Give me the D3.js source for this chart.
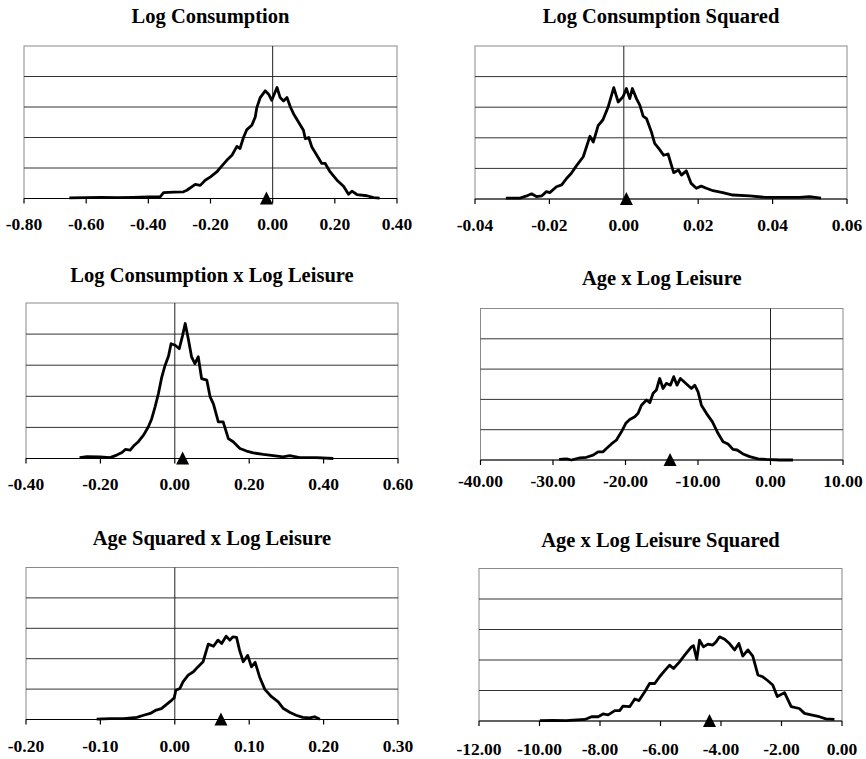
<!DOCTYPE html>
<html>
<head>
<meta charset="utf-8">
<script src="https://cdn.jsdelivr.net/npm/d3@7"></script>
<style>
body { margin: 0; background: #fff; }
svg text { font-family: "Liberation Serif", "Times New Roman", serif; font-weight: bold; fill: #000; }
</style>
</head>
<body>
<div id="chart"></div>
<script>
// panel titles
var titles = ["Log Consumption", "Log Consumption Squared", "Log Consumption x Log Leisure",
    "Age x Log Leisure", "Age Squared x Log Leisure", "Age x Log Leisure Squared"];

// x tick values for each panel
var ticksLc = [-0.8, -0.6, -0.4, -0.2, 0, 0.2, 0.4];
var ticksLc2 = [-0.04, -0.02, 0, 0.02, 0.04, 0.06];
var ticksLcl = [-0.4, -0.2, 0, 0.2, 0.4, 0.6];
var ticksAl = [-40, -30, -20, -10, 0, 10];
var ticksA2l = [-0.2, -0.1, 0, 0.1, 0.2, 0.3];
var ticksAl2 = [-12, -10, -8, -6, -4, -2, 0];

// mean of each distribution (the triangle)
var means = [-0.02, 0.0007, 0.021, -13.85, 0.062, -4.38];

// density curves, y in grid units (5 bands)
var lcX = [-0.654,-0.6,-0.55,-0.5,-0.45,-0.4,-0.362,-0.351,-0.319,-0.287,-0.276,-0.249,-0.233,-0.217,-0.2,-0.18,-0.164,-0.147,-0.131,-0.115,-0.105,-0.094,-0.083,-0.067,-0.056,-0.051,-0.04,-0.024,-0.013,-0.003,0.005,0.014,0.024,0.035,0.046,0.057,0.067,0.083,0.099,0.105,0.116,0.126,0.142,0.158,0.169,0.185,0.207,0.228,0.244,0.255,0.271,0.303,0.325,0.344];
var lcY = [0.02,0.03,0.04,0.03,0.04,0.05,0.05,0.19,0.21,0.22,0.27,0.46,0.43,0.6,0.71,0.87,1.06,1.26,1.42,1.71,1.64,2.0,2.26,2.4,2.67,2.98,3.31,3.53,3.42,3.22,3.42,3.64,3.31,3.2,3.31,3.0,2.78,2.51,2.24,1.96,2.0,1.69,1.42,1.15,1.15,0.87,0.6,0.4,0.14,0.24,0.13,0.09,0.03,0.01];

var lc2X = [-0.0317,-0.0279,-0.0261,-0.0248,-0.0235,-0.0221,-0.0208,-0.0199,-0.0181,-0.0167,-0.0154,-0.0141,-0.0127,-0.0109,-0.0091,-0.0082,-0.0069,-0.0056,-0.0042,-0.0027,-0.0015,-0.0002,0.0007,0.0016,0.0023,0.0034,0.0043,0.0052,0.0061,0.0074,0.0083,0.0096,0.0107,0.0119,0.0134,0.0147,0.0155,0.0168,0.0181,0.0195,0.0208,0.0222,0.024,0.0266,0.0293,0.0338,0.0383,0.0427,0.0472,0.0499,0.053];
var lc2Y = [0.03,0.03,0.1,0.17,0.08,0.1,0.24,0.21,0.4,0.46,0.67,0.84,1.09,1.38,2.05,1.86,2.4,2.59,3.01,3.64,3.17,3.34,3.61,3.28,3.61,3.28,3.07,2.71,2.63,2.2,1.82,1.62,1.43,1.47,0.86,0.95,0.78,0.92,0.51,0.35,0.42,0.35,0.27,0.21,0.13,0.1,0.05,0.05,0.05,0.08,0.03];

var lclX = [-0.256,-0.236,-0.201,-0.174,-0.156,-0.142,-0.133,-0.12,-0.111,-0.098,-0.084,-0.071,-0.062,-0.053,-0.044,-0.035,-0.026,-0.017,-0.01,0.001,0.012,0.021,0.028,0.037,0.045,0.054,0.063,0.072,0.086,0.095,0.104,0.117,0.13,0.144,0.157,0.175,0.193,0.211,0.238,0.265,0.291,0.309,0.336,0.381,0.426];
var lclY = [0.03,0.06,0.05,0.03,0.11,0.19,0.29,0.27,0.4,0.54,0.75,1.02,1.28,1.66,2.09,2.62,3.0,3.29,3.69,3.64,3.53,3.96,4.34,3.8,3.27,3.05,3.27,2.57,2.52,1.98,1.75,1.18,1.18,0.64,0.54,0.32,0.24,0.18,0.13,0.09,0.05,0.09,0.03,0.03,0.0];

var alX = [-29.15,-28.14,-27.45,-26.3,-25.39,-24.47,-23.78,-23.09,-22.63,-21.94,-21.25,-20.56,-19.96,-19.41,-18.72,-18.26,-17.8,-17.11,-16.65,-16.19,-15.74,-15.28,-14.82,-14.36,-13.81,-13.35,-12.89,-12.43,-11.7,-10.91,-10.45,-9.99,-9.53,-8.84,-8.01,-7.24,-6.54,-5.86,-5.17,-4.61,-3.79,-2.87,-1.72,-0.57,1.27,3.1];
var alY = [0.02,0.04,0.0,0.07,0.09,0.16,0.27,0.27,0.38,0.53,0.66,0.93,1.21,1.34,1.43,1.54,1.81,1.98,1.89,2.2,2.31,2.69,2.36,2.53,2.47,2.75,2.47,2.69,2.53,2.36,2.47,2.25,1.81,1.54,1.26,0.88,0.6,0.53,0.35,0.33,0.2,0.11,0.04,0.02,0.0,0.0];

var a2lX = [-0.105,-0.087,-0.069,-0.051,-0.042,-0.033,-0.025,-0.018,-0.011,-0.004,-0.0008,0.0014,0.0068,0.011,0.018,0.025,0.031,0.038,0.045,0.052,0.058,0.063,0.069,0.074,0.078,0.083,0.087,0.092,0.098,0.103,0.108,0.114,0.121,0.13,0.139,0.146,0.155,0.163,0.172,0.181,0.188,0.195];
var a2lY = [0.01,0.03,0.03,0.07,0.14,0.2,0.31,0.36,0.5,0.64,0.71,0.96,1.02,1.24,1.46,1.57,1.73,1.9,2.48,2.41,2.61,2.5,2.74,2.61,2.72,2.7,2.28,1.9,2.11,1.73,1.88,1.4,0.99,0.75,0.58,0.36,0.23,0.14,0.07,0.05,0.09,0.01];

var al2X = [-9.99,-9.55,-9.11,-8.89,-8.5,-8.28,-8.06,-7.9,-7.73,-7.51,-7.35,-7.24,-7.02,-6.85,-6.71,-6.52,-6.36,-6.19,-6.03,-5.86,-5.7,-5.57,-5.37,-5.2,-4.98,-4.91,-4.8,-4.71,-4.58,-4.43,-4.27,-4.16,-4.05,-3.88,-3.72,-3.55,-3.41,-3.28,-3.11,-2.95,-2.78,-2.62,-2.45,-2.29,-2.14,-1.9,-1.68,-1.41,-1.24,-1.02,-0.75,-0.53,-0.25];
var al2Y = [0.01,0.02,0.01,0.03,0.05,0.14,0.14,0.23,0.2,0.34,0.34,0.49,0.47,0.72,0.67,0.96,1.23,1.23,1.45,1.65,1.83,1.72,1.94,2.16,2.43,2.47,2.02,2.65,2.43,2.52,2.49,2.6,2.76,2.68,2.54,2.33,2.54,2.13,2.33,2.13,1.51,1.45,1.32,1.18,0.8,0.93,0.47,0.41,0.25,0.2,0.14,0.07,0.05];

var bandCount = 5;

// where each panel sits on the page
var boxes = [
    {l: 24, r: 397, t: 46, b: 198.5, titleY: 23, labelY: 230},
    {l: 475, r: 847, t: 46, b: 199, titleY: 23, labelY: 231},
    {l: 26, r: 398, t: 303, b: 458.5, titleY: 282, labelY: 490},
    {l: 480.5, r: 843, t: 308.5, b: 460, titleY: 285, labelY: 487},
    {l: 26, r: 398, t: 567.5, b: 719.5, titleY: 545, labelY: 752},
    {l: 479, r: 842, t: 568.5, b: 721, titleY: 547, labelY: 755}
];

var panels = [
    {x: lcX, y: lcY, ticks: ticksLc},
    {x: lc2X, y: lc2Y, ticks: ticksLc2},
    {x: lclX, y: lclY, ticks: ticksLcl},
    {x: alX, y: alY, ticks: ticksAl},
    {x: a2lX, y: a2lY, ticks: ticksA2l},
    {x: al2X, y: al2Y, ticks: ticksAl2}
];

var svg = d3.select("#chart").append("svg")
    .attr("width", 866)
    .attr("height", 759);

panels.forEach(function(p, i) {
    var box = boxes[i];
    var x = d3.scaleLinear()
        .domain([p.ticks[0], p.ticks[p.ticks.length - 1]])
        .range([box.l, box.r]);
    var y = d3.scaleLinear()
        .domain([0, bandCount])
        .range([box.b, box.t]);

    var g = svg.append("g");

    // title over the box
    g.append("text")
        .attr("x", (box.l + box.r) / 2)
        .attr("y", box.titleY)
        .attr("text-anchor", "middle")
        .style("font-size", "20.5px")
        .text(titles[i]);

    // outer frame (grey)
    g.append("rect")
        .attr("x", box.l)
        .attr("y", box.t)
        .attr("width", box.r - box.l)
        .attr("height", box.b - box.t)
        .attr("fill", "none")
        .attr("stroke", "#8a8a8a")
        .attr("stroke-width", 1);

    // horizontal grid lines
    g.selectAll(".grid")
        .data(d3.range(1, bandCount))
        .enter()
        .append("line")
        .attr("x1", box.l)
        .attr("x2", box.r)
        .attr("y1", function(d) { return y(d); })
        .attr("y2", function(d) { return y(d); })
        .attr("stroke", "#333")
        .attr("stroke-width", 1);

    // vertical line at zero, unless it falls on the frame
    var zx = x(0);
    if (zx > box.l + 1 && zx < box.r - 1) {
        g.append("line")
            .attr("x1", zx).attr("x2", zx)
            .attr("y1", box.t).attr("y2", box.b)
            .attr("stroke", "#222")
            .attr("stroke-width", 1);
    }

    // x axis line with ticks
    g.append("line")
        .attr("x1", box.l).attr("x2", box.r)
        .attr("y1", box.b).attr("y2", box.b)
        .attr("stroke", "#000")
        .attr("stroke-width", 1.2);

    g.selectAll(".tick")
        .data(p.ticks)
        .enter()
        .append("line")
        .attr("x1", function(d) { return x(d); })
        .attr("x2", function(d) { return x(d); })
        .attr("y1", box.b)
        .attr("y2", box.b + 5)
        .attr("stroke", "#000")
        .attr("stroke-width", 1.2);

    g.selectAll(".ticklabel")
        .data(p.ticks)
        .enter()
        .append("text")
        .attr("x", function(d) { return x(d); })
        .attr("y", box.labelY)
        .attr("text-anchor", "middle")
        .style("font-size", "17.5px")
        .text(function(d) { return d.toFixed(2); });

    // the density curve
    var pts = p.x.map(function(v, k) { return [v, p.y[k]]; });
    var line = d3.line()
        .x(function(d) { return x(d[0]); })
        .y(function(d) { return y(d[1]); });

    g.append("path")
        .datum(pts)
        .attr("d", line)
        .attr("fill", "none")
        .attr("stroke", "#000")
        .attr("stroke-width", 2.8)
        .attr("stroke-linejoin", "round");

    // triangle marking the mean
    var mx = x(means[i]);
    g.append("path")
        .attr("d", "M" + (mx - 6.5) + "," + (box.b + 6) + "L" + (mx + 6.5) + "," + (box.b + 6) + "L" + mx + "," + (box.b - 7) + "Z")
        .attr("fill", "#000");
});
</script>
</body>
</html>
